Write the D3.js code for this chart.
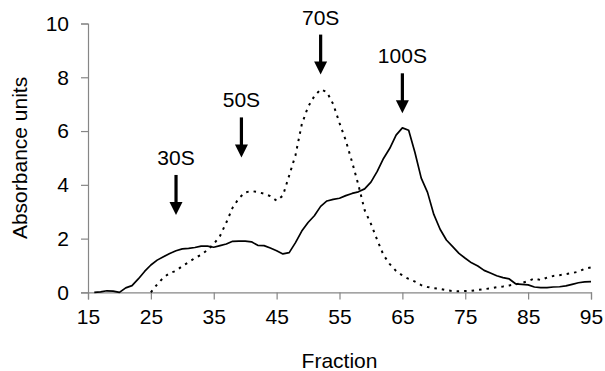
<!DOCTYPE html>
<html>
<head>
<meta charset="utf-8">
<script src="https://cdn.jsdelivr.net/npm/d3@7"></script>
<style>
  html, body { margin: 0; padding: 0; background: #fff; }
  text { font-family: "Liberation Sans", Arial, sans-serif; fill: #000; }
</style>
</head>
<body>
<div id="chart"></div>
<script>
// solid trace, fractions 16..95
var solidFractions = d3.range(16, 96);
var solidValues = [
  0, 0.02, 0.06, 0.05, 0, 0.17, 0.25, 0.5, 0.78, 1.02,
  1.2, 1.33, 1.45, 1.55, 1.62, 1.64, 1.67, 1.72, 1.72, 1.68,
  1.74, 1.8, 1.9, 1.91, 1.91, 1.88, 1.75, 1.74, 1.65, 1.55,
  1.43, 1.48, 1.85, 2.28, 2.6, 2.85, 3.2, 3.4, 3.46, 3.5,
  3.6, 3.68, 3.74, 3.85, 4.1, 4.5, 4.98, 5.36, 5.85, 6.12,
  6.03, 5.2, 4.25, 3.72, 2.9, 2.35, 1.95, 1.7, 1.45, 1.27,
  1.1, 0.98, 0.82, 0.72, 0.62, 0.55, 0.5, 0.32, 0.3, 0.28,
  0.2, 0.18, 0.18, 0.2, 0.21, 0.24, 0.3, 0.36, 0.39, 0.4
];

// dotted trace, fractions 25..95
var dottedFractions = d3.range(25, 96);
var dottedValues = [
  0, 0.3, 0.55, 0.72, 0.8, 0.98, 1.12, 1.28, 1.4, 1.58,
  1.8, 2.1, 2.6, 3.15, 3.5, 3.72, 3.77, 3.73, 3.67, 3.58,
  3.41, 3.6, 4.35, 5.1, 6.25, 6.9, 7.3, 7.55, 7.45, 7.0,
  6.3, 5.65, 4.85, 4.0, 3.06, 2.55, 1.95, 1.39, 1.05, 0.8,
  0.63, 0.5, 0.4, 0.27, 0.2, 0.16, 0.13, 0.08, 0.05, 0.04,
  0.05, 0.06, 0.09, 0.12, 0.15, 0.19, 0.22, 0.26, 0.3, 0.35,
  0.42, 0.52, 0.46, 0.55, 0.61, 0.64, 0.68, 0.72, 0.77, 0.88, 0.93
];

// sedimentation markers
var markerLabels = ["30S", "50S", "70S", "100S"];
var markerFractions = [29, 39.4, 52, 65];
var markerLevels = [2.88, 5.02, 8.1, 6.66];

var xTicks = [15, 25, 35, 45, 55, 65, 75, 85, 95];
var yTicks = [0, 2, 4, 6, 8, 10];

var width = 605, height = 371;
var margin = {left: 88, right: 14, top: 23.5, bottom: 78.6};

var svg = d3.select("#chart").append("svg")
  .attr("width", width)
  .attr("height", height);

var x = d3.scaleLinear().domain([15, 95]).range([margin.left, width - margin.right]);
var y = d3.scaleLinear().domain([0, 10]).range([height - margin.bottom, margin.top]);

// axes
var xAxis = svg.append("g")
  .attr("transform", "translate(0," + y(0) + ")")
  .call(d3.axisBottom(x).tickValues(xTicks).tickSize(7).tickPadding(10).tickFormat(d3.format("d")));
var yAxis = svg.append("g")
  .attr("transform", "translate(" + x(15) + ",0)")
  .call(d3.axisLeft(y).tickValues(yTicks).tickSize(7).tickPadding(12).tickFormat(d3.format("d")));

[xAxis, yAxis].forEach(function(g) {
  g.select(".domain").attr("stroke", "#868686").attr("stroke-width", 1.2);
  g.selectAll(".tick line").attr("stroke", "#868686").attr("stroke-width", 1.2);
  g.selectAll(".tick text").attr("fill", "#000").style("font-size", "21px")
    .style("font-family", "'Liberation Sans', Arial, sans-serif");
});

// traces
var line = d3.line()
  .x(function(d) { return x(d[0]); })
  .y(function(d) { return y(d[1]); });

svg.append("path")
  .datum(d3.zip(dottedFractions, dottedValues))
  .attr("d", line)
  .attr("fill", "none")
  .attr("stroke", "#000")
  .attr("stroke-width", 2)
  .attr("stroke-dasharray", "2.5,5");

svg.append("path")
  .datum(d3.zip(solidFractions, solidValues))
  .attr("d", line)
  .attr("fill", "none")
  .attr("stroke", "#000")
  .attr("stroke-width", 1.7)
  .attr("stroke-linejoin", "round");

// arrows
var markers = svg.selectAll(".marker")
  .data(d3.zip(markerLabels, markerFractions, markerLevels))
  .enter().append("g")
  .attr("class", "marker")
  .attr("transform", function(d) { return "translate(" + x(d[1]) + "," + y(d[2]) + ")"; });

markers.append("rect")
  .attr("x", -1.6).attr("y", -40)
  .attr("width", 3.2).attr("height", 28)
  .attr("fill", "#000");

markers.append("path")
  .attr("d", "M-6.5,-13 L6.5,-13 L0,0 Z")
  .attr("fill", "#000");

markers.append("text")
  .attr("x", 0).attr("y", -50)
  .attr("text-anchor", "middle")
  .style("font-size", "21px")
  .text(function(d) { return d[0]; });

// axis titles
svg.append("text")
  .attr("x", (x(15) + x(95)) / 2)
  .attr("y", 368)
  .attr("text-anchor", "middle")
  .style("font-size", "21px")
  .text("Fraction");

svg.append("text")
  .attr("transform", "translate(27," + ((y(0) + y(10)) / 2) + ") rotate(-90)")
  .attr("text-anchor", "middle")
  .style("font-size", "21px")
  .text("Absorbance units");
</script>
</body>
</html>
